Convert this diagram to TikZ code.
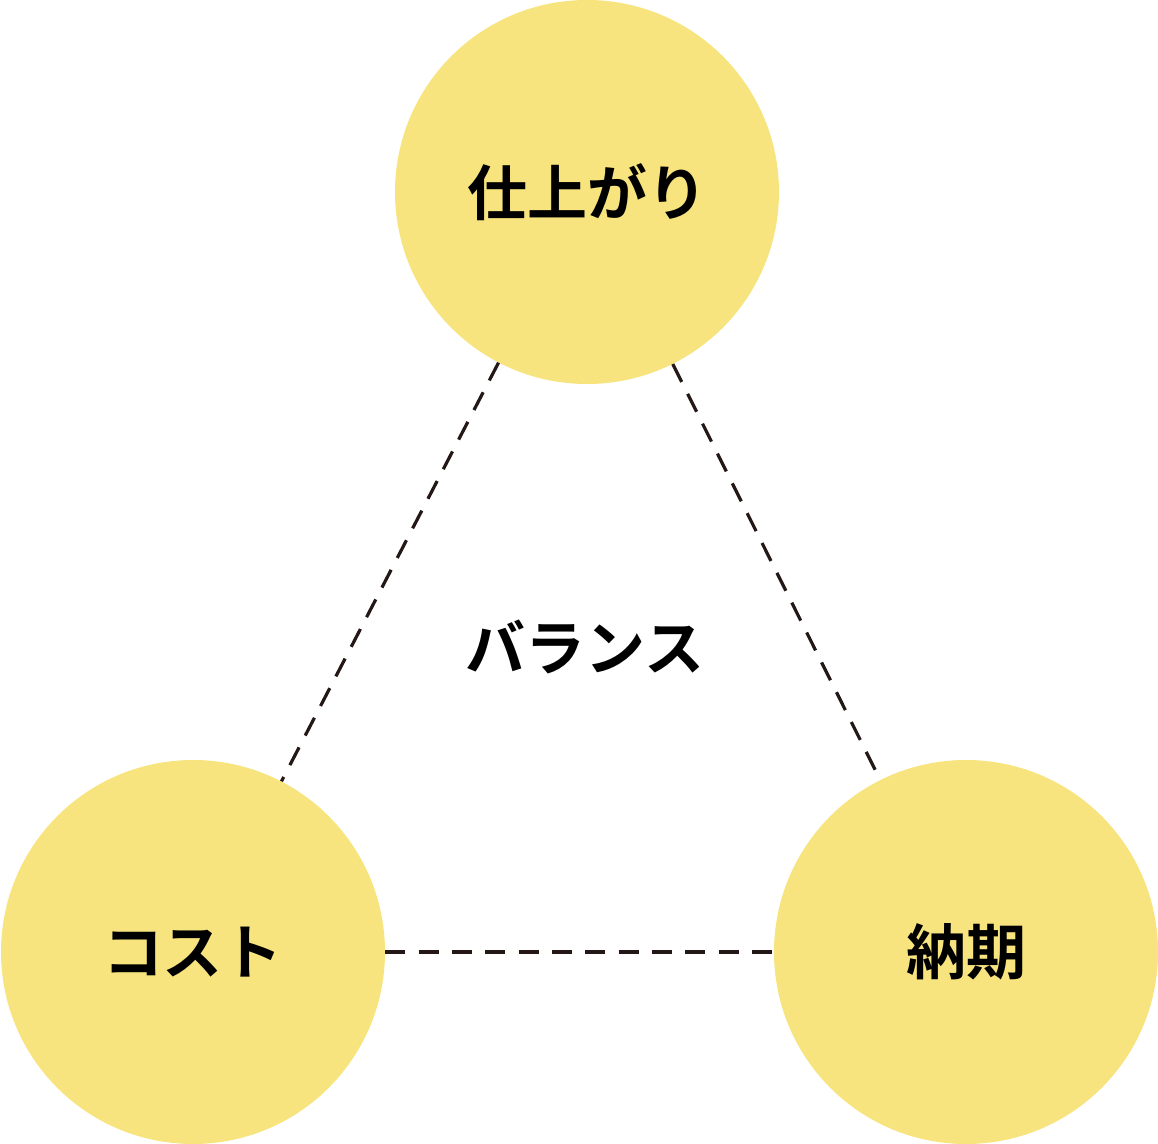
\documentclass[tikz,border=0pt]{standalone}
\usepackage{fontspec}
\newfontfamily\cjk{Noto Sans CJK JP}[BoldFont={Noto Sans CJK JP Bold}]
\definecolor{cy}{HTML}{F7E47E}
\definecolor{ln}{HTML}{231815}
\begin{document}
\begin{tikzpicture}[x=0.75pt,y=-0.75pt,
  ball/.style={circle,fill=cy,minimum size=288pt,inner sep=0pt,font=\cjk\bfseries\fontsize{45}{50}\selectfont},
  link/.style={draw=ln,line width=2.4pt,dash pattern=on 15pt off 10pt}]
\useasboundingbox (0,0) rectangle (1158,1144);
\node[ball] (t) at (587,192) {仕上がり};
\node[ball] (l) at (193,952) {コスト};
\node[ball] (r) at (966,952) {納期};
\draw[link] (t) -- (l);
\draw[link] (t) -- (r);
\draw[link] (l) -- (r);
\node[font=\cjk\bfseries\fontsize{45}{50}\selectfont] (b) at (585,647) {バランス};
\end{tikzpicture}
\end{document}
